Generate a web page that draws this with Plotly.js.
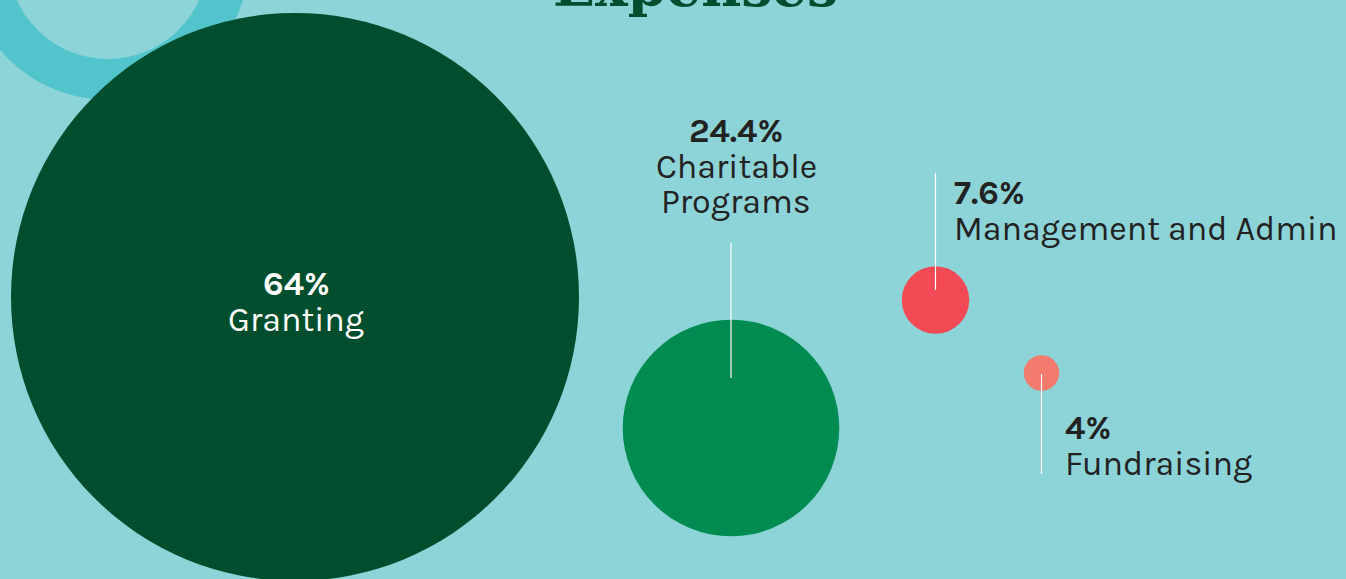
<!DOCTYPE html>
<html><head><meta charset="utf-8">
<script src="https://cdn.plot.ly/plotly-3.0.1.min.js"></script>
<style>html,body{margin:0;padding:0;background:#8dd4d8;overflow:hidden}#chart{width:1346px;height:579px}</style>
</head><body><div id="chart"></div>
<script>
// ---- data ----
const categories = ["Granting", "Charitable Programs", "Management and Admin", "Fundraising"];
const percentLabels = ["64%", "24.4%", "7.6%", "4%"];
const values = [64, 24.4, 7.6, 4];
const title = "Expenses";

// ---- layout positions (pixel coordinates on a 1346x579 canvas) ----
const centerX = [295, 731, 935.5, 1041.5];
const centerY = [297, 428, 300, 373];
const colors = ["#004e2e", "#008b50", "#f24a54", "#f27b6e"];
const pxPerPercent = 568 / 64; // bubble diameter proportional to value

const sizes = values.map(v => v * pxPerPercent);

const bubbles = {
  type: "scatter", mode: "markers",
  x: centerX, y: centerY,
  text: categories,
  marker: { size: sizes, sizemode: "diameter", color: colors, line: { width: 0 }, opacity: 1 },
  hoverinfo: "skip", showlegend: false, cliponaxis: true
};

// label blocks: [index, x, first-line y, xanchor, colour]
const labelFont = "Karla, 'DejaVu Sans', sans-serif";
const labelPos = [
  [0, 296, 284, "center", "#ffffff"],
  [1, 736, 131, "center", "#222222"],
  [2, 952, 193, "left", "#222222"],
  [3, 1063, 428, "left", "#222222"]
];
const lineGap = 35.5;
const annotations = [];
labelPos.forEach(([i, x, y, xa, col]) => {
  const lines = ["<b>" + percentLabels[i] + "</b>"].concat(
    i === 1 ? ["Charitable", "Programs"] : [categories[i]]);
  lines.forEach((t, k) => annotations.push({
    x: x, y: y + k * lineGap, xref: "x", yref: "y", showarrow: false,
    xanchor: xa, yanchor: "middle", align: xa === "center" ? "center" : "left",
    text: t, font: { family: labelFont, size: 34, color: col, weight: k === 0 ? 800 : 400 }
  }));
});
annotations.push({ x: 695, y: 9, xref: "x", yref: "y", showarrow: false, xanchor: "center", yanchor: "bottom",
  text: "<b>" + title + "</b>", font: { family: "'DejaVu Serif', serif", size: 55, color: "#004e2e" }, yshift: -12 });

// leader lines, offsets relative to bubble centres
const leaders = [
  [1, -185, -50], [2, -127, -10], [3, 1, 101]
];
const shapes = [
  { type: "circle", xref: "x", yref: "y", x0: 108 - 120.5, x1: 108 + 120.5, y0: -41 - 120.5, y1: -41 + 120.5,
    line: { color: "#52c5cc", width: 41 }, fillcolor: "rgba(0,0,0,0)", layer: "below" }
].concat(leaders.map(([i, a, b]) => ({
  type: "line", xref: "x", yref: "y", x0: centerX[i], x1: centerX[i], y0: centerY[i] + a, y1: centerY[i] + b,
  line: { color: "#ffffff", width: 1.2 }, layer: "above"
})));

const layout = {
  width: 1346, height: 579,
  margin: { l: 0, r: 0, t: 0, b: 0, pad: 0 },
  paper_bgcolor: "#8dd4d8", plot_bgcolor: "#8dd4d8",
  xaxis: { range: [0, 1346], visible: false, fixedrange: true },
  yaxis: { range: [579, 0], visible: false, fixedrange: true },
  annotations: annotations, shapes: shapes, hovermode: false, showlegend: false
};

Plotly.newPlot("chart", [bubbles], layout, { displayModeBar: false, staticPlot: true });
</script></body></html>
